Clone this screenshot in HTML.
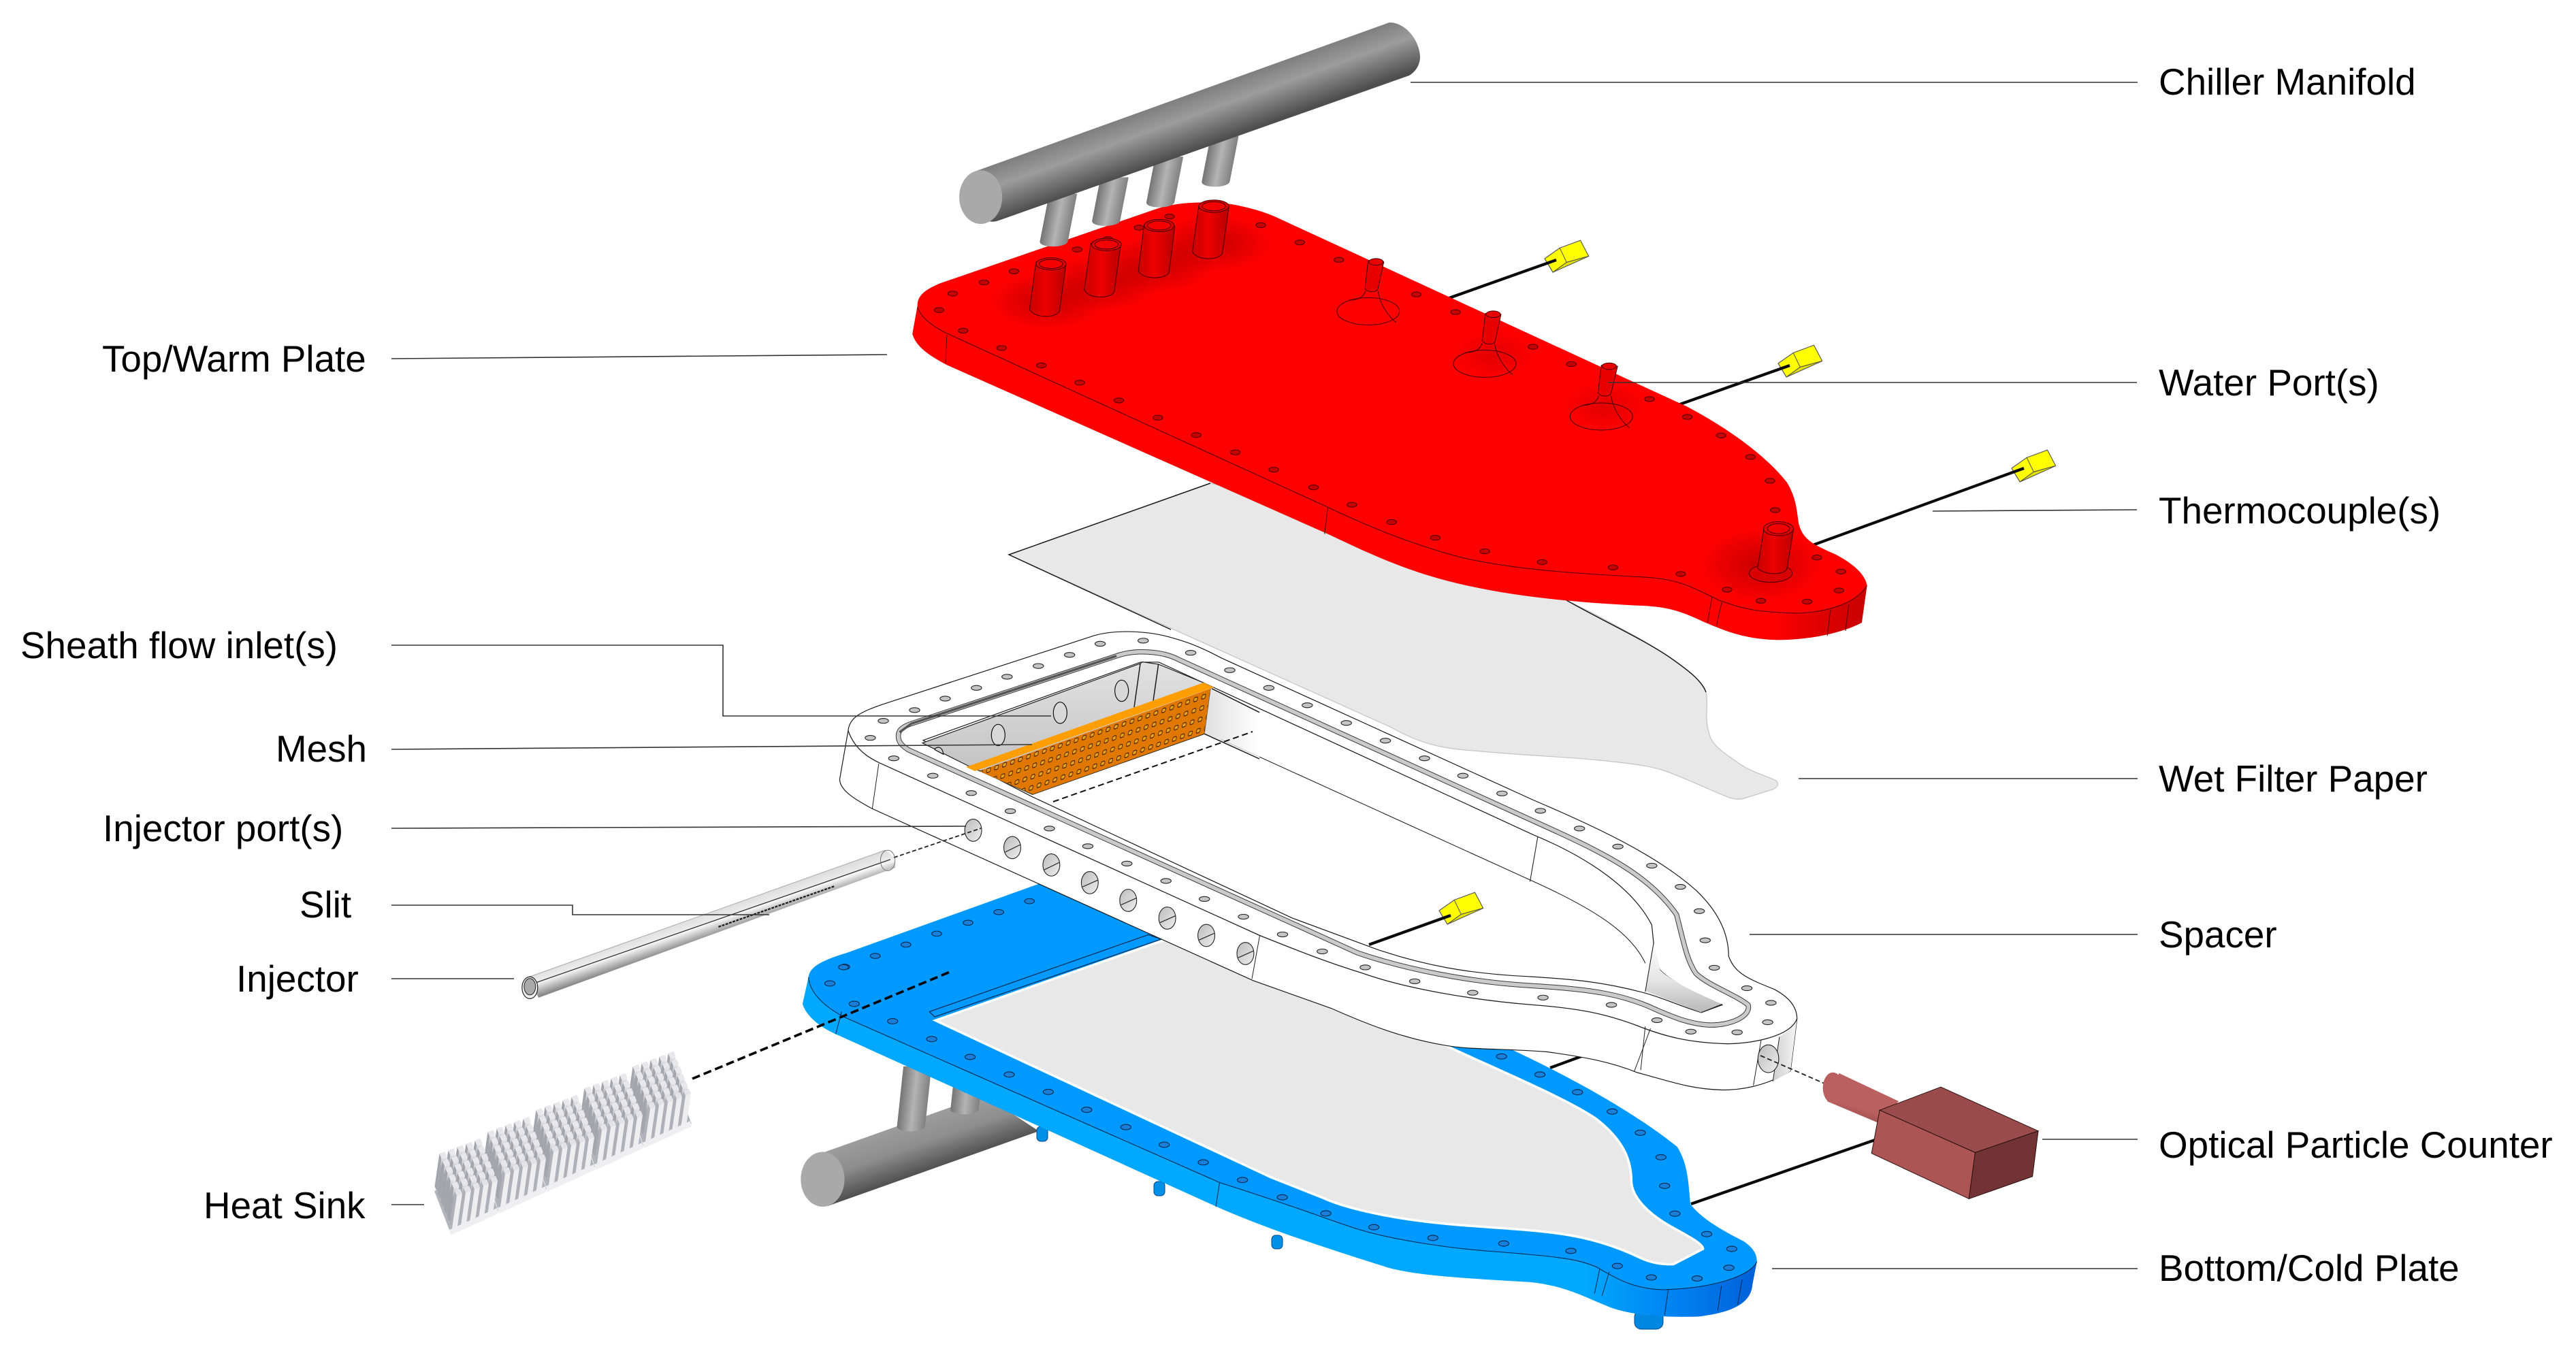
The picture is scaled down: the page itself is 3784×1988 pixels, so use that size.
<!DOCTYPE html>
<html><head><meta charset="utf-8"><style>
html,body{margin:0;padding:0;background:#fff}
svg{display:block}
text{font-family:"Liberation Sans",sans-serif;font-size:54.8px;fill:#000}
.z *{vector-effect:non-scaling-stroke}
.l{fill:none;stroke:#1a1a1a;stroke-width:1.5}
.ld{fill:none;stroke:#333;stroke-width:1.6}
.rh{rx:7.5px;ry:6px;fill:#c40000;stroke:#4a0000;stroke-width:1}
.sh{rx:8px;ry:7px;fill:#c4c4c4;stroke:#222;stroke-width:1.1}
.bh5{rx:7px;ry:10.5px;fill:#1a7fd8;stroke:#00284d;stroke-width:1.1}
.bh4{rx:9.5px;ry:7.5px;fill:#1a7fd8;stroke:#00284d;stroke-width:1.1}
.ip{rx:13px;ry:32px;fill:url(#gh);stroke:#222;stroke-width:1.1}
.w{fill:none;stroke:#0a0a0a;stroke-width:4.2}
</style></head><body>
<svg xmlns="http://www.w3.org/2000/svg" width="3784" height="1988" viewBox="0 0 3784 1988">
<defs>
<linearGradient id="gm" gradientUnits="userSpaceOnUse" x1="1700" y1="155" x2="1727" y2="230"><stop offset="0" stop-color="#7e7e7e"/><stop offset=".4" stop-color="#9c9c9c"/><stop offset="1" stop-color="#4e4e4e"/></linearGradient>
<linearGradient id="gs" x1="0" x2="1" y1="0" y2="0"><stop offset="0" stop-color="#747474"/><stop offset=".5" stop-color="#b4b4b4"/><stop offset="1" stop-color="#808080"/></linearGradient>
<linearGradient id="gr" x1="0" x2="1" y1="0" y2="0"><stop offset="0" stop-color="#c80000"/><stop offset=".45" stop-color="#ee0000"/><stop offset="1" stop-color="#b80000"/></linearGradient>
<linearGradient id="grs" x1="0" x2="1" y1="0" y2="0"><stop offset="0" stop-color="#f00"/><stop offset=".9" stop-color="#f00"/><stop offset=".95" stop-color="#e00000"/><stop offset="1" stop-color="#c80000"/></linearGradient>
<linearGradient id="gbs" x1="0" x2="1" y1="0" y2="0"><stop offset="0" stop-color="#00a8ff"/><stop offset=".82" stop-color="#00a8ff"/><stop offset=".92" stop-color="#0080f0"/><stop offset="1" stop-color="#0060d8"/></linearGradient>
<linearGradient id="gh" x1="0" x2="1" y1="0" y2="1"><stop offset="0" stop-color="#bbb"/><stop offset="1" stop-color="#eee"/></linearGradient>
<linearGradient id="gw" x1="0" x2="0" y1="0" y2="1"><stop offset="0" stop-color="#e2e2e2"/><stop offset="1" stop-color="#bcbcbc"/></linearGradient>
<linearGradient id="gwr" x1="0" x2="1" y1="0" y2="0"><stop offset="0" stop-color="#d8d8d8"/><stop offset="1" stop-color="#fff"/></linearGradient>
<linearGradient id="gtw" x1="0" x2="0" y1="0" y2="1"><stop offset="0" stop-color="#fff"/><stop offset=".55" stop-color="#e4e4e4"/><stop offset="1" stop-color="#b8b8b8"/></linearGradient>
<linearGradient id="gt" x1="0" x2="1" y1="0" y2="0"><stop offset="0" stop-color="#cfcfcf"/><stop offset="1" stop-color="#f6f6f6"/></linearGradient>
<linearGradient id="gi" gradientUnits="userSpaceOnUse" x1="1000" y1="1353" x2="1012" y2="1388"><stop offset="0" stop-color="#dcdcdc"/><stop offset=".42" stop-color="#ececec"/><stop offset=".46" stop-color="#f8f8f8"/><stop offset="1" stop-color="#8a8a8a"/></linearGradient>
<linearGradient id="glm" gradientUnits="userSpaceOnUse" x1="1320" y1="1655" x2="1345" y2="1728"><stop offset="0" stop-color="#9c9c9c"/><stop offset=".45" stop-color="#8e8e8e"/><stop offset="1" stop-color="#4e4e4e"/></linearGradient>
<linearGradient id="gc" gradientUnits="userSpaceOnUse" x1="2690" y1="1590" x2="2670" y2="1640"><stop offset="0" stop-color="#bb6060"/><stop offset="1" stop-color="#8a4444"/></linearGradient>
<linearGradient id="gf" x1="0" x2="0" y1="0" y2="1"><stop offset="0" stop-color="#f2f2f4"/><stop offset=".32" stop-color="#a6a6ae"/><stop offset="1" stop-color="#a6a6ae"/></linearGradient>
<radialGradient id="rs"><stop offset="0" stop-color="#900" stop-opacity=".55"/><stop offset="1" stop-color="#900" stop-opacity="0"/></radialGradient>
<pattern id="mp" patternUnits="userSpaceOnUse" width="1" height="1" patternTransform="matrix(11.7,-4,-2.6,16.7,1763.45,1017.65)">
<rect x=".26" y=".3" width=".48" height=".36" rx=".12" fill="#e8a020" stroke="#4a2400" stroke-width=".08"/>
</pattern>
<g id="cube">
<polygon points="0,0 22.2,-15.6 52.5,-26.8 64.7,-3.6 12.1,20" fill="#ff0" stroke="#555" stroke-width="1.1"/>
<polygon points="32.3,5.4 64.7,-3.6 12.1,20" fill="#e2e200" stroke="#555" stroke-width="1"/>
<path d="M22.2,-15.6 L32.3,5.4 L64.7,-3.6 M0,0 L12.1,20 L32.3,5.4" fill="none" stroke="#555" stroke-width="1"/>
</g>
<g id="finF"><polygon points="0,0 -3,-7 4,-55 7,-48" fill="#b0b0b8"/><polygon points="0,0 8,-3 15,-51 7,-48" fill="#eeeef1"/><polygon points="7,-48 15,-51 12,-58 4,-55" fill="#e4e4e8"/></g>
<g id="finB"><polygon points="0,0 -3,-7 4,-55 7,-48" fill="#a4a4ac"/><polygon points="0,0 8,-3 15,-51 7,-48" fill="url(#gf)"/><polygon points="7,-48 15,-51 12,-58 4,-55" fill="#e8e8ec"/></g>
<g id="rowF"><use href="#finF"/><use href="#finF" x="13" y="-4.8"/><use href="#finF" x="26" y="-9.6"/><use href="#finF" x="39" y="-14.4"/><use href="#finF" x="52" y="-19.2"/></g>
<g id="rowB"><use href="#finB"/><use href="#finB" x="13" y="-4.8"/><use href="#finB" x="26" y="-9.6"/><use href="#finB" x="39" y="-14.4"/><use href="#finB" x="52" y="-19.2"/></g>
<g id="blk">
<polygon points="-4,2 -26,-55 44,-85 68,-26" fill="#b4b4bc"/>
<use href="#rowB" x="-22.5" y="-55"/><use href="#rowB" x="-18" y="-44"/><use href="#rowB" x="-13.5" y="-33"/><use href="#rowB" x="-9" y="-22"/><use href="#rowB" x="-4.5" y="-11"/><use href="#rowF"/>
<polygon points="-4,2 66,-30 68,-22 -2,10" fill="#efeff2"/>
</g>
</defs>
<rect width="3784" height="1988" fill="#fff"/>

<!-- filter paper -->
<path d="M1778,710 L1482,815 L1669,900 L2042,1068 C2090,1095 2120,1100 2176,1104 C2240,1110 2300,1112 2348,1117 C2400,1122 2420,1125 2444,1132 C2480,1145 2510,1160 2535,1170 C2548,1175 2555,1175 2562,1173 L2604,1160 C2613,1155 2613,1152 2609,1147 C2590,1138 2575,1135 2558,1124 C2530,1105 2515,1095 2511,1079 C2503,1055 2510,1035 2506,1017 C2495,995 2475,982 2453,966 C2415,940 2375,920 2338,900 L2301,882 L2200,800 Z" fill="#e8e8e8" stroke="#c4c4c4" stroke-width="1.2"/>
<path class="l" stroke="#333" d="M1778,710 L1482,815 L1720,925 M2301,882 C2360,915 2415,940 2453,966 C2480,985 2500,1000 2506,1017"/>

<!-- thermocouple wires, red -->
<use href="#cube" x="2269" y="380"/><use href="#cube" x="2612" y="534"/><use href="#cube" x="2955" y="688"/>
<path class="w" d="M2120,441 L2286,382"/><path class="w" d="M2465,595 L2629,537"/><path class="w" d="M2660,802 L2973,688"/>

<!-- red plate -->
<g class="z" transform="matrix(.9566,0,0,.6059,1300,0)">
<path fill="url(#grs)" d="M42,810 L50,740 C55,715 65,700 85,687 L420,505 C450,490 490,488 530,495 C560,503 585,515 605,530 L1230,985 C1290,1035 1350,1100 1385,1170 C1400,1210 1400,1240 1403,1270 C1410,1310 1425,1320 1460,1345 C1490,1370 1505,1395 1508,1420 L1500,1510 C1470,1535 1420,1552 1370,1552 C1320,1550 1290,1530 1260,1510 C1220,1480 1200,1470 1150,1468 C1050,1460 960,1445 880,1415 C800,1385 740,1340 680,1295 L95,885 C65,860 48,840 42,810 Z"/>
<clipPath id="rc"><path d="M50,745 C48,715 65,700 85,687 L420,505 C450,490 490,488 530,495 C560,503 585,515 605,530 L1230,985 C1290,1035 1350,1100 1385,1170 C1400,1210 1400,1240 1403,1270 C1410,1310 1425,1320 1460,1345 C1490,1370 1505,1395 1508,1420 C1490,1465 1445,1485 1400,1487 C1350,1485 1320,1480 1280,1455 C1240,1425 1220,1405 1170,1400 C1050,1390 960,1380 880,1350 C800,1315 740,1275 680,1230 L100,812 C75,795 55,770 50,745 Z"/></clipPath>
<path fill="#f00" d="M50,745 C48,715 65,700 85,687 L420,505 C450,490 490,488 530,495 C560,503 585,515 605,530 L1230,985 C1290,1035 1350,1100 1385,1170 C1400,1210 1400,1240 1403,1270 C1410,1310 1425,1320 1460,1345 C1490,1370 1505,1395 1508,1420 C1490,1465 1445,1485 1400,1487 C1350,1485 1320,1480 1280,1455 C1240,1425 1220,1405 1170,1400 C1050,1390 960,1380 880,1350 C800,1315 740,1275 680,1230 L100,812 C75,795 55,770 50,745 Z"/>
<g clip-path="url(#rc)">
<ellipse cx="250" cy="730" rx="90" ry="70" fill="url(#rs)"/><ellipse cx="335" cy="685" rx="90" ry="70" fill="url(#rs)"/><ellipse cx="420" cy="640" rx="90" ry="70" fill="url(#rs)"/><ellipse cx="505" cy="590" rx="90" ry="70" fill="url(#rs)"/>
<ellipse cx="1345" cy="1370" rx="95" ry="90" fill="url(#rs)"/><ellipse cx="935" cy="860" rx="65" ry="60" fill="url(#rs)" opacity=".5"/><ellipse cx="1105" cy="985" rx="65" ry="60" fill="url(#rs)" opacity=".5"/>
</g>
<path fill="none" stroke="#500" stroke-width="1.1" d="M50,745 C55,770 75,795 100,812 L680,1230 C740,1275 800,1315 880,1350 C960,1380 1050,1390 1170,1400 C1220,1405 1240,1425 1280,1455 C1320,1480 1350,1485 1400,1487 C1445,1485 1490,1465 1508,1420"/>
<path fill="none" stroke="#500" stroke-width="1" d="M95,812 L93,880 M680,1230 L675,1295 M1285,1460 L1277,1518 M1270,1448 L1263,1510 M1452,1478 L1447,1542 M1480,1465 L1475,1530"/>
<g>
<ellipse class="rh" cx="437" cy="525"/><ellipse class="rh" cx="390" cy="552"/><ellipse class="rh" cx="342" cy="580"/><ellipse class="rh" cx="295" cy="605"/><ellipse class="rh" cx="198" cy="658"/><ellipse class="rh" cx="152" cy="685"/><ellipse class="rh" cx="104" cy="712"/><ellipse class="rh" cx="83" cy="752"/><ellipse class="rh" cx="120" cy="802"/><ellipse class="rh" cx="179" cy="844"/><ellipse class="rh" cx="240" cy="886"/><ellipse class="rh" cx="299" cy="928"/><ellipse class="rh" cx="359" cy="971"/><ellipse class="rh" cx="419" cy="1013"/><ellipse class="rh" cx="478" cy="1055"/><ellipse class="rh" cx="538" cy="1097"/><ellipse class="rh" cx="597" cy="1139"/><ellipse class="rh" cx="658" cy="1182"/><ellipse class="rh" cx="717" cy="1224"/><ellipse class="rh" cx="778" cy="1266"/><ellipse class="rh" cx="845" cy="1304"/><ellipse class="rh" cx="921" cy="1337"/><ellipse class="rh" cx="1009" cy="1363"/><ellipse class="rh" cx="1118" cy="1376"/><ellipse class="rh" cx="1222" cy="1392"/><ellipse class="rh" cx="1293" cy="1430"/><ellipse class="rh" cx="1345" cy="1457"/><ellipse class="rh" cx="1416" cy="1459"/><ellipse class="rh" cx="1465" cy="1432"/><ellipse class="rh" cx="1468" cy="1386"/><ellipse class="rh" cx="1431" cy="1352"/><ellipse class="rh" cx="1367" cy="1237"/><ellipse class="rh" cx="1359" cy="1166"/><ellipse class="rh" cx="1329" cy="1108"/><ellipse class="rh" cx="1284" cy="1056"/><ellipse class="rh" cx="1232" cy="1011"/><ellipse class="rh" cx="1174" cy="968"/><ellipse class="rh" cx="1054" cy="883"/><ellipse class="rh" cx="995" cy="841"/><ellipse class="rh" cx="876" cy="757"/><ellipse class="rh" cx="816" cy="714"/><ellipse class="rh" cx="697" cy="630"/><ellipse class="rh" cx="637" cy="588"/><ellipse class="rh" cx="577" cy="546"/>
</g>
<!-- tubes -->
<path d="M232,635 L222,750 C228,772 262,772 268,755 L278,640 Z" fill="url(#gr)" stroke="#400" stroke-width="1"/><ellipse cx="255" cy="640" rx="23" ry="15" fill="#e00000" stroke="#400" stroke-width="1"/><ellipse cx="255" cy="640" rx="18" ry="11" fill="#f50000" stroke="#400" stroke-width="1"/>
<path d="M316,590 L306,703 C312,725 346,725 352,708 L362,595 Z" fill="url(#gr)" stroke="#400" stroke-width="1"/><ellipse cx="340" cy="593" rx="23" ry="15" fill="#e00000" stroke="#400" stroke-width="1"/><ellipse cx="340" cy="593" rx="18" ry="11" fill="#f50000" stroke="#400" stroke-width="1"/>
<path d="M398,545 L389,657 C395,678 430,678 436,662 L445,549 Z" fill="url(#gr)" stroke="#400" stroke-width="1"/><ellipse cx="421" cy="547" rx="23" ry="15" fill="#e00000" stroke="#400" stroke-width="1"/><ellipse cx="421" cy="547" rx="18" ry="11" fill="#f50000" stroke="#400" stroke-width="1"/>
<path d="M482,498 L472,610 C478,632 512,632 518,615 L528,502 Z" fill="url(#gr)" stroke="#400" stroke-width="1"/><ellipse cx="505" cy="500" rx="23" ry="15" fill="#e00000" stroke="#400" stroke-width="1"/><ellipse cx="505" cy="500" rx="18" ry="11" fill="#f50000" stroke="#400" stroke-width="1"/>
<ellipse cx="1360" cy="1390" rx="33" ry="22" fill="#d80000" stroke="#400" stroke-width="1"/>
<path d="M1350,1278 L1340,1378 C1350,1395 1380,1395 1385,1380 L1395,1285 Z" fill="url(#gr)" stroke="#400" stroke-width="1"/><ellipse cx="1372" cy="1282" rx="23" ry="17" fill="#e00000" stroke="#400" stroke-width="1"/><ellipse cx="1372" cy="1282" rx="17" ry="12" fill="#f50000" stroke="#400" stroke-width="1"/>
<!-- small flared ports -->
<g fill="none" stroke="#400" stroke-width="1">
<ellipse cx="742" cy="755" rx="48" ry="33"/><path d="M757,705 C760,740 775,770 785,782 M738,705 C735,722 725,728 712,728"/>
<path d="M742,632 L737,700 C742,710 755,710 757,700 L766,635 Z" fill="#e80000"/><ellipse cx="754" cy="635" rx="11" ry="8" fill="#e80000"/>
<ellipse cx="921" cy="882" rx="48" ry="33"/><path d="M936,832 C939,867 954,897 964,909 M917,832 C914,849 904,855 891,855"/>
<path d="M922,760 L917,827 C922,837 935,837 937,827 L946,762 Z" fill="#e80000"/><ellipse cx="934" cy="762" rx="11" ry="8" fill="#e80000"/>
<ellipse cx="1100" cy="1010" rx="48" ry="33"/><path d="M1115,960 C1118,995 1133,1025 1143,1037 M1096,960 C1093,977 1083,983 1070,983"/>
<path d="M1100,886 L1095,953 C1100,963 1113,963 1115,953 L1125,888 Z" fill="#e80000"/><ellipse cx="1112" cy="888" rx="11" ry="8" fill="#e80000"/>
</g>
</g>

<!-- chiller manifold -->
<g class="z" transform="matrix(.9566,0,0,.6059,1300,0)">
<g transform="translate(252,470) skewX(-7)"><path fill="url(#gs)" d="M0,0 H43 V115 C43,132 0,132 0,115 Z"/></g>
<g transform="translate(331,430) skewX(-7)"><path fill="url(#gs)" d="M0,0 H43 V105 C43,122 0,122 0,105 Z"/></g>
<g transform="translate(415,380) skewX(-7)"><path fill="url(#gs)" d="M0,0 H43 V110 C43,127 0,127 0,110 Z"/></g>
<g transform="translate(500,330) skewX(-7)"><path fill="url(#gs)" d="M0,0 H43 V110 C43,127 0,127 0,110 Z"/></g>
</g>
<path fill="url(#gm)" d="M1429,253 L2041,33 C2065,33 2086,60 2086,85 C2085,98 2078,106 2070,111 L1467,324 C1450,330 1440,320 1432,300 Z"/>
<g class="z" transform="matrix(.9566,0,0,.6059,1300,0)"><ellipse cx="147" cy="478" rx="33" ry="65" fill="#a9a9a9"/></g>

<!-- lower manifold -->
<path fill="url(#glm)" d="M1205,1695 L1396,1627 L1450,1612 L1526,1662 L1216,1772 Z"/>
<g class="z" transform="matrix(.7653,0,0,.5026,600,1200)">
<g transform="translate(950,730) skewX(-4)"><path fill="url(#gs)" d="M0,0 H54 V175 C54,195 0,195 0,175 Z"/></g>
<g transform="translate(1045,790) skewX(-4)"><path fill="url(#gs)" d="M0,0 H54 V65 C54,85 0,85 0,65 Z"/></g>
<ellipse cx="795" cy="1060" rx="42" ry="80" fill="#a9a9a9"/>
</g>

<!-- wires behind blue -->
<path class="w" d="M2277,1569 L2326,1551"/><path class="w" d="M2484,1769 L2754,1675"/>

<!-- pegs -->
<g fill="#0090e8" stroke="#00468a" stroke-width="1">
<rect x="1523" y="1655" width="16" height="22" rx="6"/><rect x="1695" y="1736" width="16" height="21" rx="6"/><rect x="1868" y="1815" width="16" height="20" rx="6"/><rect x="2401" y="1925" width="42" height="28" rx="10" fill="#0088e0"/>
</g>

<!-- blue plate -->
<g class="z" transform="matrix(1.0842,0,0,.375,1000,1400)">
<path fill="url(#gbs)" d="M173,96 L165,200 C170,250 190,295 215,325 L730,1000 C790,1075 850,1135 960,1235 C1000,1265 1060,1275 1150,1290 C1200,1305 1225,1350 1260,1390 C1290,1420 1330,1430 1380,1425 C1420,1410 1450,1380 1452,1300 L1458,1210 Z"/>
<path fill="#0099ff" d="M173,96 C175,60 185,35 225,0 L482,-267 L560,-340 L1130,385 C1200,480 1290,620 1350,760 C1365,830 1365,900 1368,985 C1385,1050 1420,1100 1440,1130 C1455,1160 1458,1185 1458,1210 C1450,1265 1400,1315 1330,1320 C1290,1315 1270,1280 1240,1230 C1215,1200 1190,1190 1100,1170 C1030,1155 960,1120 920,1085 C880,1050 860,1020 730,900 L220,250 C195,210 175,160 173,96 Z"/>
<path fill="none" stroke="#00284d" stroke-width="1.1" d="M173,96 C175,160 195,210 220,250 L730,900 C860,1020 880,1050 920,1085 C960,1120 1030,1155 1100,1170 C1190,1190 1215,1200 1240,1230 C1270,1280 1290,1315 1330,1320 C1400,1315 1450,1265 1458,1210"/>
<path fill="none" stroke="#00284d" stroke-width="1" d="M218,230 L210,318 M730,900 L725,995 M1258,1250 L1248,1345 M1245,1240 L1238,1335 M1338,1318 L1333,1420 M1410,1305 L1405,1402 M1438,1280 L1432,1378"/>
<path fill="#e8e8e8" stroke="#fff" stroke-width="3.5" d="M345,265 L655,-50 L900,100 L1030,355 C1100,450 1200,570 1240,650 C1280,740 1288,820 1288,900 C1290,960 1310,1020 1340,1070 C1365,1110 1385,1140 1385,1160 L1345,1220 C1330,1222 1315,1215 1300,1195 C1275,1160 1240,1120 1190,1100 C1140,1080 1080,1075 1030,1060 C960,1040 900,1000 870,960 L800,880 Z"/>
<g>
<ellipse class="bh5" cx="222" cy="55"/><ellipse class="bh5" cx="202" cy="120"/><ellipse class="bh5" cx="235" cy="200"/><ellipse class="bh5" cx="287" cy="268"/><ellipse class="bh5" cx="340" cy="338"/><ellipse class="bh5" cx="392" cy="408"/><ellipse class="bh5" cx="445" cy="477"/><ellipse class="bh5" cx="498" cy="545"/><ellipse class="bh5" cx="550" cy="615"/><ellipse class="bh5" cx="603" cy="683"/><ellipse class="bh5" cx="655" cy="752"/><ellipse class="bh5" cx="708" cy="821"/><ellipse class="bh5" cx="761" cy="890"/><ellipse class="bh5" cx="815" cy="958"/><ellipse class="bh5" cx="874" cy="1021"/><ellipse class="bh5" cx="939" cy="1075"/><ellipse class="bh5" cx="1019" cy="1117"/><ellipse class="bh5" cx="1115" cy="1139"/><ellipse class="bh5" cx="1206" cy="1168"/><ellipse class="bh5" cx="1269" cy="1227"/><ellipse class="bh5" cx="1315" cy="1272"/><ellipse class="bh5" cx="1377" cy="1276"/><ellipse class="bh5" cx="1420" cy="1234"/><ellipse class="bh5" cx="1424" cy="1160"/><ellipse class="bh5" cx="1390" cy="1102"/><ellipse class="bh5" cx="1347" cy="1022"/><ellipse class="bh5" cx="1333" cy="913"/><ellipse class="bh5" cx="1328" cy="801"/><ellipse class="bh5" cx="1300" cy="705"/><ellipse class="bh5" cx="1262" cy="622"/><ellipse class="bh5" cx="1215" cy="546"/><ellipse class="bh5" cx="1164" cy="477"/><ellipse class="bh5" cx="1112" cy="406"/>
</g>
</g>
<g class="z" transform="matrix(.7653,0,0,.5026,600,1200)">
<path d="M1000,570 L1420,345 L1445,358 L1010,585 Z" fill="#0099ff" stroke="#00284d" stroke-width="1.2"/>
<ellipse class="bh4" cx="1192" cy="247"/><ellipse class="bh4" cx="1133" cy="279"/><ellipse class="bh4" cx="1074" cy="310"/><ellipse class="bh4" cx="1014" cy="342"/><ellipse class="bh4" cx="955" cy="374"/><ellipse class="bh4" cx="896" cy="407"/><ellipse class="bh4" cx="835" cy="440"/>
</g>

<!-- spacer -->
<g class="z" transform="matrix(.9566,0,0,.5102,1200,900)">
<path fill="#fff" stroke="#1a1a1a" stroke-width="1.2" d="M48,340 C50,300 70,285 100,265 L420,70 C450,50 500,50 540,70 C570,85 590,100 620,130 L1100,540 C1200,620 1290,700 1350,800 C1395,880 1400,950 1400,990 C1410,1040 1430,1055 1470,1085 C1495,1110 1505,1140 1505,1170 L1495,1320 C1465,1355 1430,1375 1390,1375 C1340,1372 1310,1350 1260,1325 C1220,1295 1180,1280 1120,1265 C1050,1255 1000,1260 960,1245 C900,1225 850,1190 790,1140 L670,1060 L85,565 C55,535 35,510 35,480 Z"/>
<path d="M1478,1222 C1490,1210 1500,1190 1505,1170 L1495,1320 C1488,1330 1478,1340 1468,1350 Z" fill="url(#gt)"/>
<path fill="none" stroke="#222" stroke-width="1.3" d="M48,340 C55,380 70,410 95,432 L680,930 C740,975 780,1005 840,1040 C900,1080 1000,1115 1100,1130 C1170,1140 1210,1155 1260,1190 C1300,1220 1340,1240 1400,1242 C1440,1240 1495,1220 1505,1170"/>
<path fill="none" stroke="#222" stroke-width="1" d="M95,435 L85,565 M680,930 L668,1055 M1272,1192 L1265,1318 M1280,1198 L1255,1322 M1450,1230 L1438,1362 M1478,1222 L1468,1350"/>
<g>
<ellipse class="ip" cx="240" cy="627"/><ellipse class="ip" cx="300" cy="677"/><ellipse class="ip" cx="360" cy="727"/><ellipse class="ip" cx="419" cy="778"/><ellipse class="ip" cx="478" cy="829"/><ellipse class="ip" cx="538" cy="880"/><ellipse class="ip" cx="598" cy="930"/><ellipse class="ip" cx="658" cy="982"/>
<ellipse class="ip" cx="1461" cy="1285" style="rx:16px;ry:40px"/>
</g>
<path fill="none" stroke="#333" stroke-width="1.3" d="M289,690 L313,668 M349,741 L373,719 M408,790 L432,770 M467,842 L491,822 M527,893 L551,873 M587,943 L611,923 M647,994 L671,974"/>
<!-- cavity -->
<path fill="#fff" stroke="#1a1a1a" stroke-width="1.2" d="M163,368 L497,143 L525,143 L1100,640 C1190,710 1255,800 1282,900 C1285,950 1285,990 1295,1030 C1320,1075 1360,1105 1390,1130 L1358,1152 C1320,1130 1300,1110 1270,1095 C1200,1060 1150,1055 1090,1048 C1000,1040 930,1015 860,970 L730,880 L330,530 Z"/>
<path d="M1285,950 L1272,1090 L1358,1152 L1390,1128 C1340,1090 1305,1050 1295,1030 Z" fill="url(#gtw)"/>
<path fill="none" stroke="#222" stroke-width="1.1" d="M620,365 L1095,770 C1190,850 1250,920 1272,1010 M1107,645 L1095,775 M1285,950 L1272,1092 M1358,1152 L1390,1128"/>
</g>
<use href="#cube" x="2114" y="1338"/>
<path class="w" d="M2011,1388 L2131,1345"/>
<g class="z" transform="matrix(.9566,0,0,.5102,1200,900)">
<!-- groove -->
<path fill="none" stroke="#3a3a3a" stroke-width="7.5" stroke-linejoin="round" d="M125,355 C125,340 130,330 145,320 L465,122 C490,108 530,110 555,135 L1135,630 C1210,695 1280,760 1320,870 C1330,940 1335,1000 1350,1040 C1370,1075 1410,1100 1430,1130 C1435,1165 1400,1190 1370,1188 C1340,1185 1315,1165 1290,1145 C1240,1100 1190,1085 1100,1075 C1000,1065 900,1025 830,980 L730,895 L140,395 C128,380 125,370 125,355 Z"/>
<path fill="none" stroke="#cacaca" stroke-width="5.5" stroke-linejoin="round" d="M125,355 C125,340 130,330 145,320 L465,122 C490,108 530,110 555,135 L1135,630 C1210,695 1280,760 1320,870 C1330,940 1335,1000 1350,1040 C1370,1075 1410,1100 1430,1130 C1435,1165 1400,1190 1370,1188 C1340,1185 1315,1165 1290,1145 C1240,1100 1190,1085 1100,1075 C1000,1065 900,1025 830,980 L730,895 L140,395 C128,380 125,370 125,355 Z"/>
<path fill="none" stroke="#555" stroke-width="3.5" d="M127,345 L145,320 L460,125"/>
<g>
<ellipse class="sh" cx="118" cy="420"/><ellipse class="sh" cx="178" cy="470"/><ellipse class="sh" cx="237" cy="520"/><ellipse class="sh" cx="297" cy="572"/><ellipse class="sh" cx="357" cy="622"/><ellipse class="sh" cx="416" cy="673"/><ellipse class="sh" cx="476" cy="723"/><ellipse class="sh" cx="536" cy="773"/><ellipse class="sh" cx="595" cy="825"/><ellipse class="sh" cx="655" cy="876"/><ellipse class="sh" cx="715" cy="927"/><ellipse class="sh" cx="776" cy="976"/><ellipse class="sh" cx="842" cy="1022"/><ellipse class="sh" cx="918" cy="1062"/><ellipse class="sh" cx="1007" cy="1095"/><ellipse class="sh" cx="1115" cy="1109"/><ellipse class="sh" cx="1220" cy="1130"/><ellipse class="sh" cx="1290" cy="1174"/><ellipse class="sh" cx="1342" cy="1207"/><ellipse class="sh" cx="1413" cy="1209"/><ellipse class="sh" cx="1460" cy="1180"/><ellipse class="sh" cx="1465" cy="1124"/><ellipse class="sh" cx="1428" cy="1082"/><ellipse class="sh" cx="1378" cy="1023"/><ellipse class="sh" cx="1364" cy="944"/><ellipse class="sh" cx="1355" cy="860"/><ellipse class="sh" cx="1326" cy="790"/><ellipse class="sh" cx="1282" cy="729"/><ellipse class="sh" cx="1230" cy="674"/><ellipse class="sh" cx="1171" cy="622"/><ellipse class="sh" cx="1111" cy="571"/><ellipse class="sh" cx="1052" cy="521"/><ellipse class="sh" cx="992" cy="470"/><ellipse class="sh" cx="933" cy="420"/><ellipse class="sh" cx="873" cy="369"/><ellipse class="sh" cx="813" cy="318"/><ellipse class="sh" cx="753" cy="267"/><ellipse class="sh" cx="694" cy="217"/><ellipse class="sh" cx="634" cy="166"/><ellipse class="sh" cx="574" cy="116"/><ellipse class="sh" cx="501" cy="81"/><ellipse class="sh" cx="435" cy="90"/><ellipse class="sh" cx="388" cy="122"/><ellipse class="sh" cx="340" cy="154"/><ellipse class="sh" cx="292" cy="185"/><ellipse class="sh" cx="245" cy="217"/><ellipse class="sh" cx="197" cy="248"/><ellipse class="sh" cx="150" cy="281"/><ellipse class="sh" cx="102" cy="312"/><ellipse class="sh" cx="82" cy="361"/>
</g>
</g>
<!-- wall and mesh (zoom 8 coordinates) -->
<g class="z" transform="matrix(.33333,0,0,.33333,1350,950)">
<path d="M15,425 L975,75 L985,68 L1055,78 L1255,160 L1285,185 L1258,385 L500,652 L215,525 Z" fill="url(#gw)" stroke="#222" stroke-width="1.2"/>
<path d="M1285,185 L1500,290 L1500,495 L1258,385 Z" fill="url(#gwr)" opacity=".8"/>
<path class="l" stroke="#222" d="M1290,185 L1500,290 M1258,385 L1500,495 M975,75 L948,268 M1055,78 L1032,240"/>
<ellipse cx="893" cy="195" rx="30" ry="47" fill="#d8d8d8" stroke="#111" stroke-width="1.2"/><ellipse cx="622" cy="292" rx="30" ry="47" fill="#d8d8d8" stroke="#111" stroke-width="1.2"/><ellipse cx="349" cy="390" rx="30" ry="47" fill="#d8d8d8" stroke="#111" stroke-width="1.2"/><path d="M70,450 C90,435 105,450 107,475 L70,455 Z" fill="#d0d0d0" stroke="#111" stroke-width="1.2"/>
</g>
<polygon points="1438,1133 1778,1012 1769,1078 1517,1167" fill="#e07800"/>
<polygon points="1438,1133 1778,1012 1769,1078 1517,1167" fill="url(#mp)"/>
<polygon points="1419,1127 1768,1003 1783,1010 1432,1133" fill="#ff9e00"/>
<path d="M1547,1178 L1840,1075" fill="none" stroke="#111" stroke-width="2" stroke-dasharray="9 5"/>

<!-- dashed -->
<path d="M1313,1260 L1441,1217" fill="none" stroke="#222" stroke-width="1.8" stroke-dasharray="6 3.5"/>
<path d="M2586,1551 L2680,1592" fill="none" stroke="#222" stroke-width="1.8" stroke-dasharray="7 4"/>
<path d="M1017,1585 L1398,1427" fill="none" stroke="#000" stroke-width="3.6" stroke-dasharray="12 6"/>

<!-- injector -->
<path fill="url(#gi)" d="M777,1435 L1300,1249 C1310,1255 1316,1262 1315,1275 L791,1466 Z"/>
<g class="z" transform="matrix(.7653,0,0,.5026,600,1200)">
<path fill="none" stroke="#333" stroke-width="1.3" d="M245,485 L925,125"/>
<path fill="none" stroke="#aaa" stroke-width="1" d="M232,468 L915,98"/>
<ellipse cx="920" cy="128" rx="14" ry="30" fill="none" stroke="#777" stroke-width="1"/>
<path d="M595,322 L818,203" fill="none" stroke="#222" stroke-width="2.4" stroke-dasharray="4 1.5"/>
<ellipse cx="233" cy="500" rx="15" ry="32" fill="#eee" stroke="#222" stroke-width="1.2"/>
<ellipse cx="233" cy="497" rx="11" ry="24" fill="#aaa" stroke="#222" stroke-width="1"/>
</g>

<!-- heat sink -->
<use href="#blk" x="948" y="1677"/><use href="#blk" x="877" y="1709"/><use href="#blk" x="806" y="1741"/><use href="#blk" x="735" y="1773"/><use href="#blk" x="664" y="1805"/>

<!-- OPC -->
<g class="z" transform="matrix(.7015,0,0,.5663,2000,1100)">
<path d="M1000,842 L1125,915 L1080,970 L975,915 Z" fill="url(#gc)"/>
<ellipse cx="987" cy="880" rx="21" ry="40" fill="#bb6060"/>
<polygon points="1085,938 1213,878 1417,992 1285,1048" fill="#9a4c4c" stroke="#2a1010" stroke-width="1"/>
<polygon points="1085,938 1285,1048 1272,1168 1068,1050" fill="#ad5555" stroke="#2a1010" stroke-width="1"/>
<polygon points="1285,1048 1417,992 1405,1110 1272,1168" fill="#713333" stroke="#2a1010" stroke-width="1"/>
</g>

<!-- leaders -->
<path class="ld" d="M2072,121 H3140"/>
<path class="ld" d="M2362,562 H3139"/>
<path class="ld" d="M2839,751 L3139,749"/>
<path class="ld" d="M2642,1144 H3140"/>
<path class="ld" d="M2570,1373 H3140"/>
<path class="ld" d="M3000,1674 H3140"/>
<path class="ld" d="M2603,1864 H3140"/>
<path class="ld" d="M575,527 L1303,521"/>
<path class="ld" d="M575,948 H1062 V1052 H1544"/>
<path class="ld" d="M575,1101 L1516,1094"/>
<path class="ld" d="M575,1217 L1419,1214"/>
<path class="ld" d="M575,1330 H841 V1344 H1130"/>
<path class="ld" d="M575,1438 H755"/>
<path class="ld" d="M575,1770 H623"/>

<!-- labels -->
<text x="3171" y="139">Chiller Manifold</text>
<text x="3171" y="581">Water Port(s)</text>
<text x="3171" y="769">Thermocouple(s)</text>
<text x="3171" y="1163">Wet Filter Paper</text>
<text x="3171" y="1392">Spacer</text>
<text x="3171" y="1701">Optical Particle Counter</text>
<text x="3171" y="1882">Bottom/Cold Plate</text>
<text x="150" y="546">Top/Warm Plate</text>
<text x="30" y="967">Sheath flow inlet(s)</text>
<text x="405" y="1119">Mesh</text>
<text x="151" y="1236">Injector port(s)</text>
<text x="440" y="1348">Slit</text>
<text x="347" y="1457">Injector</text>
<text x="299" y="1790">Heat Sink</text>
</svg>
</body></html>
